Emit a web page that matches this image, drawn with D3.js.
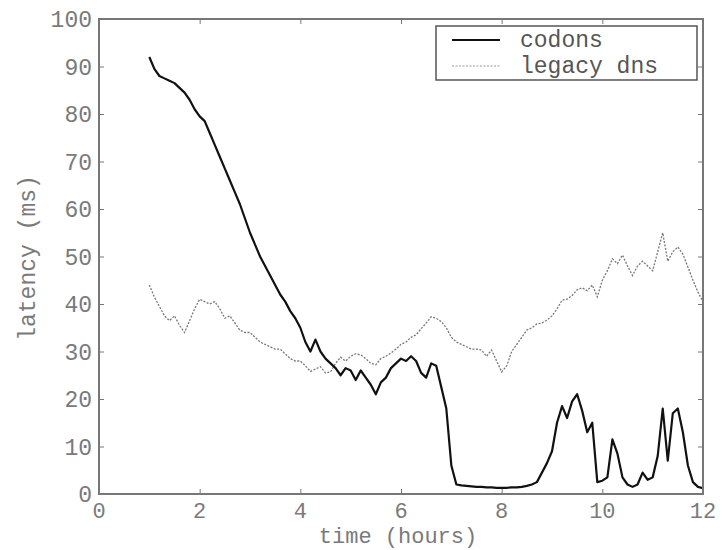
<!DOCTYPE html>
<html>
<head>
<meta charset="utf-8">
<script src="https://cdn.jsdelivr.net/npm/d3@7"></script>
<style>
  body { margin: 0; background: white; }
  text { font-family: "Liberation Mono", "DejaVu Sans Mono", monospace; }
</style>
</head>
<body>
<script>
// sampling grid (hours), one sample every 0.1 h from 1 to 12
const hours = d3.range(10, 121).map(d => d / 10);

// codons latency (ms)
const codons = [
    92, 89.5, 88, 87.5, 87, 86.5, 85.5, 84.5, 83, 81,
    79.5, 78.5, 76, 73.5, 71, 68.5, 66, 63.5, 61, 58,
    55, 52.5, 50, 48, 46, 44, 42, 40.5, 38.5, 37,
    35, 32, 30, 32.5, 30, 28.5, 27.5, 26.5, 25, 26.5,
    26, 24, 26, 24.5, 23, 21, 23.5, 24.5, 26.5, 27.5,
    28.5, 28, 29, 28, 25.5, 24.5, 27.5, 27, 22.5, 18,
    6, 2, 1.8, 1.7, 1.6, 1.5, 1.5, 1.4, 1.4, 1.3,
    1.3, 1.3, 1.4, 1.4, 1.5, 1.7, 2, 2.5, 4.5, 6.5,
    9, 15, 18.5, 16, 19.5, 21, 17.5, 13, 15, 2.5,
    2.8, 3.5, 11.5, 8.5, 3.5, 2, 1.5, 2, 4.5, 3,
    3.5, 8, 18, 7, 17, 18, 13, 6, 2.5, 1.5,
    1.2
];

// legacy dns latency (ms)
const legacy = [
    44, 41.5, 39.5, 37.5, 36.5, 37.5, 35.5, 34, 36.5, 39,
    41, 40.5, 40, 40.5, 39, 37, 37.5, 36, 34.5, 34,
    34, 33, 32, 31.5, 31, 30.5, 30.5, 29.5, 28.5, 28,
    28, 27, 25.8, 26.3, 26.8, 25.5, 25.7, 27.5, 28.8, 28,
    29, 29.5, 29.3, 28.5, 27.5, 27.2, 28.5, 29, 29.7, 30.5,
    31.5, 32, 33, 33.5, 34.8, 36, 37.3, 37, 36.3, 35,
    33, 32, 31.5, 31, 30.5, 30.5, 30.3, 29, 30.3, 28,
    25.7, 27, 30, 31.5, 33, 34.5, 35, 35.8, 36, 36.6,
    37.5, 39, 40.8, 41, 41.8, 43, 43.4, 42.8, 44, 41.5,
    45, 47, 49.5, 48.5, 50.3, 48, 46, 48, 49, 48,
    47, 51, 55, 49, 51, 52, 50.5, 47.8, 45, 42.5,
    40.5
];

const xTicks = [0, 2, 4, 6, 8, 10, 12];
const yTicks = [0, 10, 20, 30, 40, 50, 60, 70, 80, 90, 100];
const seriesNames = ["codons", "legacy dns"];

const width = 722, height = 550;
const margin = { left: 99, top: 19, right: 19, bottom: 56 };
const plotW = width - margin.left - margin.right;
const plotH = height - margin.top - margin.bottom;
const axisGray = "#777";
const textGray = "#7a7a7a";
const fontSize = "23px";

const svg = d3.select("body").append("svg")
    .attr("width", width)
    .attr("height", height);

const x = d3.scaleLinear().domain([0, 12]).range([margin.left, margin.left + plotW]);
const y = d3.scaleLinear().domain([0, 100]).range([margin.top + plotH, margin.top]);

// ticks on all four sides, pointing inwards
const tickLen = 5;
svg.append("g")
    .attr("transform", `translate(0,${y(0)})`)
    .call(d3.axisBottom(x).tickValues(xTicks).tickSize(-tickLen).tickFormat(""))
    .call(g => g.select(".domain").remove());
svg.append("g")
    .attr("transform", `translate(0,${y(100)})`)
    .call(d3.axisTop(x).tickValues(xTicks).tickSize(-tickLen).tickFormat(""))
    .call(g => g.select(".domain").remove());
svg.append("g")
    .attr("transform", `translate(${x(0)},0)`)
    .call(d3.axisLeft(y).tickValues(yTicks).tickSize(-tickLen).tickFormat(""))
    .call(g => g.select(".domain").remove());
svg.append("g")
    .attr("transform", `translate(${x(12)},0)`)
    .call(d3.axisRight(y).tickValues(yTicks).tickSize(-tickLen).tickFormat(""))
    .call(g => g.select(".domain").remove());
svg.selectAll(".tick line").attr("stroke", axisGray).attr("stroke-width", 1);

// tick labels
svg.append("g").selectAll("text")
    .data(xTicks)
    .join("text")
    .attr("x", d => x(d))
    .attr("y", y(0) + 24)
    .attr("text-anchor", "middle")
    .attr("font-size", "22px")
    .attr("fill", textGray)
    .text(d => d);
svg.append("g").selectAll("text")
    .data(yTicks)
    .join("text")
    .attr("x", x(0) - 7)
    .attr("y", d => y(d) + 8)
    .attr("text-anchor", "end")
    .attr("font-size", fontSize)
    .attr("fill", textGray)
    .text(d => d);

// axis titles
svg.append("text")
    .attr("x", 398)
    .attr("y", 543)
    .attr("text-anchor", "middle")
    .attr("font-size", "22px")
    .attr("fill", textGray)
    .text("time (hours)");
svg.append("text")
    .attr("transform", `translate(35,258) rotate(-90)`)
    .attr("text-anchor", "middle")
    .attr("font-size", fontSize)
    .attr("fill", textGray)
    .text("latency (ms)");

// lines
const rows = hours.map((h, i) => ({ h, c: codons[i], l: legacy[i] }));
const lineC = d3.line().x(d => x(d.h)).y(d => y(d.c));
const lineL = d3.line().x(d => x(d.h)).y(d => y(d.l));

svg.append("path")
    .datum(rows)
    .attr("d", lineL)
    .attr("fill", "none")
    .attr("stroke", "#777")
    .attr("stroke-width", 1.3)
    .attr("stroke-dasharray", "2,1.5");
svg.append("path")
    .datum(rows)
    .attr("d", lineC)
    .attr("fill", "none")
    .attr("stroke", "#111")
    .attr("stroke-width", 2.2)
    .attr("stroke-linejoin", "round");

// frame
svg.append("rect")
    .attr("x", x(0)).attr("y", y(100))
    .attr("width", plotW).attr("height", plotH)
    .attr("fill", "none")
    .attr("stroke", axisGray)
    .attr("stroke-width", 2);

// legend
const legend = svg.append("g");
legend.append("rect")
    .attr("x", 436).attr("y", 26)
    .attr("width", 261).attr("height", 54)
    .attr("fill", "white")
    .attr("stroke", "#555")
    .attr("stroke-width", 1.5);
const legendStyles = [
    { stroke: "#111", width: 2, dash: null },
    { stroke: "#999", width: 1.2, dash: "2,1.5" }
];
seriesNames.forEach((name, i) => {
    const ly = 40 + i * 26;
    legend.append("line")
        .attr("x1", 452).attr("x2", 500)
        .attr("y1", ly).attr("y2", ly)
        .attr("stroke", legendStyles[i].stroke)
        .attr("stroke-width", legendStyles[i].width)
        .attr("stroke-dasharray", legendStyles[i].dash);
    legend.append("text")
        .attr("x", 520)
        .attr("y", ly + 7)
        .attr("font-size", fontSize)
        .attr("fill", "#555")
        .text(name);
});
</script>
</body>
</html>
